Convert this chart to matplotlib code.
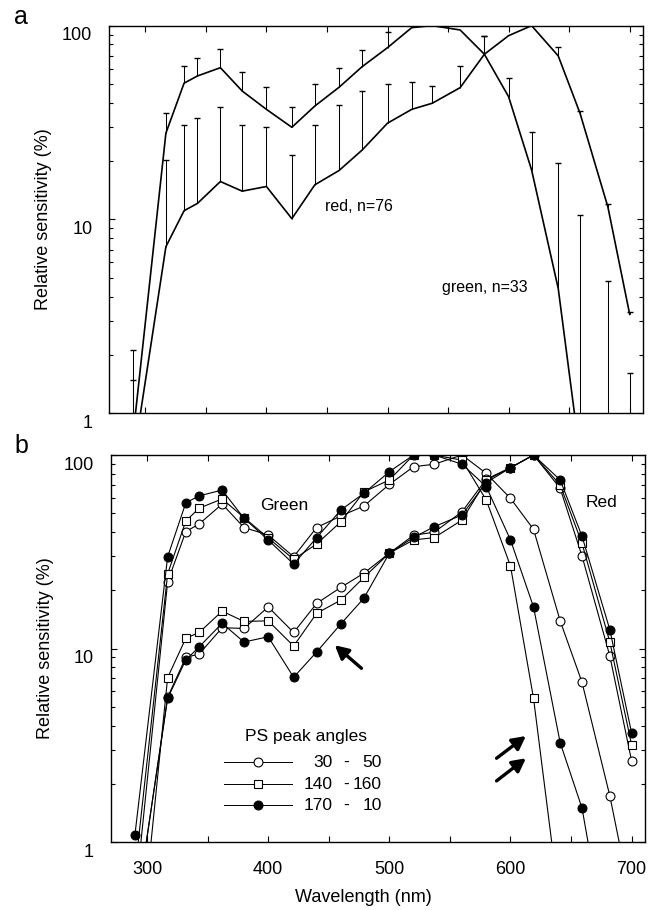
import numpy as np
import matplotlib
matplotlib.use("Agg")
import matplotlib.pyplot as plt
from matplotlib.transforms import ScaledTranslation

plt.rcParams['font.family'] = ['Liberation Sans', 'DejaVu Sans']

# wavelengths of the test stimuli (nm)
wl = [290, 317, 332, 343, 362, 380, 400, 421, 440, 460, 479, 500,
      520, 537, 560, 580, 600, 619, 641, 659, 682, 700]

# panel a: mean curves and top of the error bars (nan = no bar visible)
green_a = [0.78, 27.9, 50.5, 55, 60.7, 46, 37, 29.9, 38.5, 48.1, 61.4, 77,
           97.7, 100, 95, 71.2, 43, 18, 4.4, 0.6, 0.2, 0.1]
green_a_top = [2.12, 35.3, 62, 68, 75.6, 57.5, 48.4, 38.2, 49.9, 60.3, 74.9, 93,
               np.nan, np.nan, np.nan, 88.8, 53.6, 28.2, 19.5, 10.6, 4.83, 1.61]
red_a = [0.57, 7.24, 11.1, 12.1, 15.7, 14.0, 14.8, 10.1, 15.1, 17.9, 22.8, 31.4,
         37, 39.8, 47.9, 71.2, 88.8, 100, 69.8, 35.3, 11.6, 3.24]
red_a_top = [1.49, 20.3, 30.7, 33.3, 37.9, 30.7, 29.9, 21.5, 30.7, 39, 46.2, 50,
             51.4, 49, 62, 88.8, np.nan, np.nan, 77.4, 36.3, 12.0, 3.35]

# panel b: three PS peak angle classes, green and red receptors
angle_labels = [('30', '50'), ('140', '160'), ('170', '10')]
open_g = [0.5, 22.1, 40.2, 44, 55.8, 42.2, 38.6, 29.8, 42.2, 48.4, 54.5, 70.5,
          87, 89.6, 100, 80.3, 59.7, 41.3, 13.9, 6.7, 1.73, 0.48]
sq_g = [0.7, 24.3, 45.6, 53.1, 59.3, 47.5, 37.3, 28.9, 34.7, 45.2, 64.5, 74.3,
        100, 100, 94, 58.5, 26.7, 5.53, 0.45, np.nan, np.nan, np.nan]
fill_g = [1.09, 29.8, 56.6, 61.5, 65.9, 47.1, 36.4, 27.3, 37.4, 52, 63.4, 82,
          100, 100, 89.6, 68.6, 36.4, 16.4, 3.26, 1.5, 0.23, np.nan]
open_r = [0.4, 5.6, 9.0, 9.37, 12.8, 12.7, 16.4, 12.1, 17.1, 20.7, 24.5, 31.1,
          38.5, 39.9, 50.9, 75, 86, 100, 67.3, 30.1, 9.15, 2.62]
sq_r = [0.15, 7.07, 11.3, 12.1, 15.6, 13.8, 13.9, 10.3, 15.2, 17.8, 23.3, 31.1,
        36.4, 37.4, 46.1, 74, 86, 100, 70, 35, 10.8, 3.17]
fill_r = [0.4, 5.53, 8.73, 10.2, 13.5, 10.8, 11.5, 7.1, 9.6, 13.4, 18.2, 31.1,
          37.5, 42.6, 49, 72, 85.9, 100, 74.3, 38.1, 12.5, 3.65]

FS = 13

fig = plt.figure(figsize=(6.55, 9.1), dpi=100)
axA = fig.add_axes([0.1664, 0.5458, 0.8153, 0.4260])
axB = fig.add_axes([0.169, 0.0747, 0.8157, 0.4253])


def style_axis(ax):
    ax.set_yscale('log')
    ax.set_xlim(270, 711)
    ax.set_ylim(1, 100)
    ax.set_xticks([300, 350, 400, 450, 500, 550, 600, 650, 700])
    ax.set_xticklabels(['300', '', '400', '', '500', '', '600', '', '700'])
    ax.set_yticks([1, 10, 100])
    ax.set_yticklabels(['1', '10', '100'])
    ax.tick_params(which='both', direction='in', top=True, right=True,
                   labelsize=FS, width=0.8)
    ax.tick_params(which='major', length=4.5)
    ax.tick_params(which='minor', length=3)
    ax.tick_params(axis='x', pad=14)
    ax.tick_params(axis='y', pad=12)
    for s in ax.spines.values():
        s.set_linewidth(1.0)
    ax.set_ylabel('Relative sensitivity (%)', fontsize=FS)
    ax.yaxis.set_label_coords(-0.107, 0.5)
    # the printed y labels sit a little below their ticks
    off = ScaledTranslation(0, -8 / 100, fig.dpi_scale_trans)
    for t in ax.yaxis.get_major_ticks():
        t.label1.set_transform(t.label1.get_transform() + off)


def draw_errs(ax, x, y, top):
    x = np.array(x)
    y = np.array(y)
    top = np.array(top)
    m = ~np.isnan(top)
    ax.vlines(x[m], y[m], top[m], colors='k', lw=0.75)
    ax.plot(x[m], top[m], ls='none', marker='_', ms=5, mew=1.0, color='k')


# ---- panel a
style_axis(axA)
axA.set_xticklabels([])
axA.plot(wl, green_a, color='k', lw=1.2)
axA.plot(wl, red_a, color='k', lw=1.2)
draw_errs(axA, wl, green_a, green_a_top)
draw_errs(axA, wl, red_a, red_a_top)
axA.text(448.5, 11.6, 'red, n=76', fontsize=11.5, va='center')
axA.text(545, 4.48, 'green, n=33', fontsize=11.5, va='center')

# ---- panel b
style_axis(axB)
axB.set_xlabel('Wavelength (nm)', fontsize=FS)
axB.xaxis.set_label_coords(0.472, -0.121)

open_kw = dict(marker='o', ms=6.4, mfc='white', mec='k', mew=0.8)
sq_kw = dict(marker='s', ms=6.0, mfc='white', mec='k', mew=0.8)
fill_kw = dict(marker='o', ms=6.4, mfc='k', mec='k', mew=0.8)
styles = [open_kw, sq_kw, fill_kw]

for ys, kw in [(open_g, open_kw), (sq_g, sq_kw), (fill_g, fill_kw),
               (open_r, open_kw), (sq_r, sq_kw), (fill_r, fill_kw)]:
    axB.plot(wl, ys, color='k', lw=0.8, **kw)

axB.text(393, 54.7, 'Green', fontsize=12.5, va='center')
axB.text(662, 56.7, 'Red', fontsize=12.5, va='center')

# arrows
aprops = dict(arrowstyle='-|>,head_length=0.8,head_width=0.42', lw=2.4,
              color='k', shrinkA=0, shrinkB=0)
axB.annotate('', xy=(455, 10.4), xytext=(477, 7.9), arrowprops=aprops)
axB.annotate('', xy=(612.7, 3.53), xytext=(588.5, 2.71), arrowprops=aprops)
axB.annotate('', xy=(612.7, 2.71), xytext=(588.5, 2.07), arrowprops=aprops)

# hand-made legend
axB.text(0.2513, 0.272, 'PS peak angles', fontsize=12.5, va='center',
         transform=axB.transAxes)
rows = [0.2067, 0.1499, 0.0956]
for yr, kw, (a, b) in zip(rows, styles, angle_labels):
    axB.plot([0.212, 0.340], [yr, yr], color='k', lw=0.7,
             transform=axB.transAxes, clip_on=False)
    axB.plot([0.2766], [yr], transform=axB.transAxes, ls='none', **kw)
    axB.text(0.416, yr, a, ha='right', va='center', fontsize=12.5,
             transform=axB.transAxes)
    axB.text(0.441, yr, '-', ha='center', va='center', fontsize=12.5,
             transform=axB.transAxes)
    axB.text(0.508, yr, b, ha='right', va='center', fontsize=12.5,
             transform=axB.transAxes)

fig.text(14 / 655, 1 - 24 / 910, 'a', fontsize=18, va='baseline')
fig.text(14 / 655, 1 - 453 / 910, 'b', fontsize=18, va='baseline')

fig.savefig('out.png', dpi=100)
